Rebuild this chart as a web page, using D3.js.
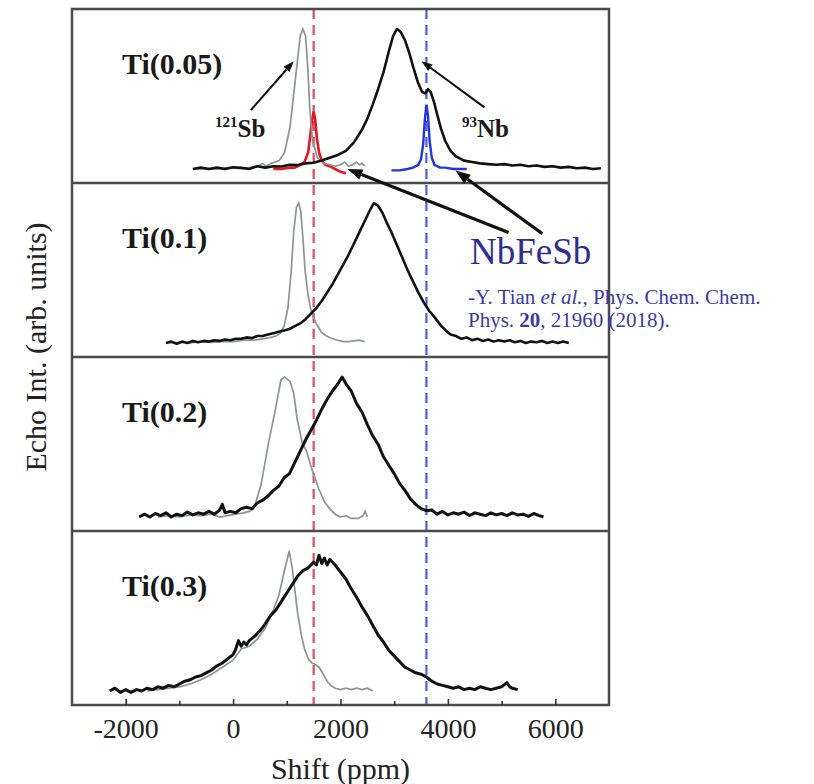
<!DOCTYPE html>
<html>
<head>
<meta charset="utf-8">
<script src="https://cdn.jsdelivr.net/npm/d3@7"></script>
<style>
  body { margin: 0; background: #fff; }
  svg { display: block; }
  text { font-family: "Liberation Serif", "Times New Roman", serif; }
</style>
</head>
<body>
<svg id="chart" width="814" height="784"></svg>
<script>
// panels, top to bottom
var panelNames = ["Ti(0.05)", "Ti(0.1)", "Ti(0.2)", "Ti(0.3)"];

// x axis
var xTicks = [-2000, 0, 2000, 4000, 6000];
var xMinorTicks = [-1000, 1000, 3000, 5000];
var refLines = [1500, 3600];   // NbFeSb 121Sb / 93Nb peak positions

// [shift ppm, normalised echo intensity]
// 93Nb spectra (black)
var nb005 = [[-750,0.0],[-600,0.01],[-450,0.0],[-300,0.01],[-150,0.0],[0,0.012],[150,0.008],[300,0.0],[450,0.02],[600,0.01],[750,0.02],[900,0.018],[1050,0.03],[1200,0.028],[1350,0.04],[1500,0.045],[1650,0.06],[1800,0.08],[1950,0.1],[2100,0.13],[2250,0.19],[2400,0.28],[2500,0.36],[2600,0.46],[2700,0.57],[2800,0.69],[2900,0.84],[2980,0.95],[3050,1.0],[3120,0.98],[3200,0.92],[3280,0.83],[3360,0.72],[3440,0.62],[3520,0.55],[3580,0.54],[3630,0.57],[3680,0.55],[3740,0.48],[3800,0.39],[3870,0.29],[3950,0.2],[4050,0.13],[4150,0.09],[4300,0.06],[4450,0.05],[4600,0.04],[4750,0.035],[4900,0.03],[5050,0.035],[5200,0.025],[5350,0.03],[5500,0.02],[5650,0.025],[5800,0.015],[5950,0.02],[6100,0.01],[6250,0.015],[6400,0.005],[6550,0.01],[6700,0.0],[6850,0.005]];
var nb01 = [[-1250,0.0],[-1150,0.01],[-1050,-0.005],[-950,0.01],[-850,0.0],[-750,0.015],[-650,0.005],[-550,0.015],[-450,0.01],[-350,0.02],[-250,0.015],[-150,0.025],[-50,0.02],[50,0.03],[150,0.03],[250,0.04],[350,0.035],[450,0.05],[550,0.05],[650,0.06],[750,0.07],[850,0.08],[950,0.09],[1050,0.1],[1150,0.12],[1250,0.14],[1350,0.17],[1450,0.21],[1550,0.25],[1650,0.3],[1750,0.36],[1850,0.42],[1950,0.49],[2050,0.56],[2150,0.63],[2250,0.71],[2350,0.79],[2450,0.87],[2550,0.95],[2620,1.0],[2700,0.98],[2780,0.93],[2860,0.86],[2950,0.79],[3050,0.7],[3150,0.61],[3250,0.52],[3350,0.44],[3450,0.36],[3550,0.29],[3650,0.23],[3720,0.2],[3800,0.16],[3880,0.12],[3960,0.09],[4050,0.06],[4150,0.05],[4250,0.03],[4350,0.04],[4450,0.02],[4550,0.03],[4650,0.015],[4750,0.025],[4850,0.01],[4950,0.02],[5050,0.01],[5150,0.02],[5250,0.005],[5350,0.015],[5450,0.0],[5550,0.01],[5650,0.005],[5750,0.015],[5850,0.0],[5950,0.01],[6050,0.0],[6150,0.01],[6250,0.0]];
var nb02 = [[-1750,0.0],[-1650,0.02],[-1550,0.0],[-1450,0.025],[-1350,0.01],[-1250,0.03],[-1150,0.0],[-1050,0.02],[-950,0.01],[-850,0.035],[-750,0.015],[-650,0.03],[-550,0.02],[-450,0.04],[-350,0.02],[-250,0.05],[-200,0.09],[-150,0.03],[-50,0.04],[50,0.03],[150,0.06],[250,0.07],[350,0.06],[450,0.1],[550,0.12],[650,0.15],[750,0.19],[850,0.22],[950,0.28],[1050,0.31],[1150,0.39],[1250,0.47],[1350,0.55],[1450,0.62],[1550,0.69],[1650,0.77],[1750,0.84],[1850,0.9],[1950,0.95],[2030,1.0],[2120,0.94],[2200,0.9],[2300,0.81],[2400,0.75],[2500,0.66],[2600,0.58],[2700,0.52],[2800,0.43],[2900,0.37],[3000,0.31],[3100,0.24],[3200,0.19],[3300,0.13],[3400,0.09],[3500,0.06],[3600,0.045],[3700,0.05],[3800,0.02],[3900,0.04],[4000,0.015],[4100,0.03],[4200,0.02],[4300,0.035],[4400,0.01],[4500,0.03],[4600,0.02],[4700,0.01],[4800,0.03],[4900,0.015],[5000,0.025],[5100,0.01],[5200,0.03],[5300,0.015],[5400,0.02],[5500,0.005],[5600,0.025],[5700,0.01],[5780,0.0]];
var nb03 = [[-2300,0.0],[-2200,0.02],[-2100,-0.01],[-2000,0.01],[-1900,-0.01],[-1800,0.01],[-1700,0.0],[-1600,0.02],[-1500,0.01],[-1400,0.03],[-1300,0.02],[-1200,0.04],[-1100,0.03],[-1000,0.05],[-900,0.07],[-800,0.08],[-700,0.1],[-600,0.11],[-500,0.13],[-400,0.15],[-300,0.18],[-200,0.2],[-100,0.23],[0,0.26],[50,0.3],[100,0.36],[150,0.32],[200,0.35],[250,0.33],[300,0.36],[400,0.39],[500,0.43],[600,0.48],[700,0.54],[800,0.58],[900,0.64],[1000,0.7],[1100,0.76],[1200,0.82],[1300,0.86],[1400,0.88],[1500,0.92],[1550,0.9],[1600,0.97],[1650,0.91],[1700,0.95],[1750,0.9],[1800,0.94],[1850,0.92],[1900,0.9],[2000,0.85],[2100,0.8],[2200,0.73],[2300,0.67],[2400,0.6],[2500,0.54],[2600,0.47],[2700,0.4],[2800,0.35],[2900,0.29],[3000,0.25],[3100,0.21],[3200,0.17],[3300,0.15],[3400,0.13],[3500,0.12],[3600,0.1],[3700,0.07],[3800,0.05],[3900,0.04],[4000,0.03],[4100,0.02],[4200,0.03],[4300,0.01],[4400,0.02],[4500,0.01],[4600,0.03],[4700,0.02],[4800,0.01],[4900,0.02],[5000,0.03],[5100,0.06],[5150,0.03],[5200,0.02],[5300,0.01]];

// 121Sb spectra (grey)
var sb005 = [[-700,0.0],[-500,0.005],[-300,0.0],[-100,0.01],[100,0.005],[300,0.01],[450,0.02],[550,0.04],[620,0.02],[700,0.04],[780,0.05],[860,0.06],[960,0.12],[1060,0.3],[1130,0.54],[1200,0.78],[1250,0.95],[1300,1.0],[1350,0.95],[1390,0.73],[1430,0.42],[1480,0.2],[1570,0.08],[1700,0.04],[1800,0.03],[1900,0.02],[2000,0.03],[2080,0.05],[2150,0.02],[2220,0.03],[2300,0.05],[2350,0.03],[2400,0.04],[2450,0.02]];
var sb01 = [[-1200,0.0],[-1000,0.005],[-800,0.0],[-600,0.01],[-400,0.005],[-200,0.01],[0,0.01],[200,0.02],[400,0.02],[550,0.03],[700,0.04],[800,0.05],[880,0.07],[950,0.12],[1020,0.25],[1080,0.5],[1130,0.8],[1180,0.97],[1220,1.0],[1260,0.94],[1300,0.75],[1340,0.52],[1390,0.36],[1440,0.25],[1500,0.18],[1560,0.13],[1640,0.08],[1740,0.05],[1850,0.03],[1950,0.02],[2050,0.01],[2150,0.01],[2250,0.015],[2350,0.02],[2450,0.01]];
var sb02 = [[-1400,0.0],[-1200,0.01],[-1000,0.0],[-800,0.015],[-600,0.01],[-400,0.02],[-250,0.0],[-100,0.01],[50,0.02],[200,0.03],[300,0.04],[387,0.06],[521,0.23],[655,0.52],[789,0.77],[891,0.98],[958,1.0],[1058,0.97],[1126,0.89],[1193,0.7],[1293,0.52],[1360,0.48],[1460,0.35],[1596,0.2],[1700,0.11],[1797,0.06],[1900,0.02],[1998,0.0],[2100,0.01],[2200,-0.01],[2335,-0.01],[2420,0.01],[2460,0.04],[2503,0.0]];
var sb03 = [[-1600,0.0],[-1400,0.01],[-1200,0.02],[-1000,0.03],[-800,0.05],[-600,0.08],[-400,0.12],[-200,0.17],[0,0.22],[150,0.3],[300,0.32],[450,0.37],[600,0.45],[750,0.58],[850,0.68],[950,0.85],[1045,1.0],[1100,0.88],[1150,0.72],[1200,0.56],[1270,0.4],[1330,0.3],[1400,0.23],[1470,0.2],[1530,0.19],[1600,0.17],[1680,0.12],[1750,0.07],[1820,0.04],[1900,0.02],[2000,0.01],[2100,0.02],[2200,0.01],[2300,0.02],[2400,0.01],[2500,0.02],[2600,0.0]];

// NbFeSb reference (Tian et al.), shown in the Ti(0.05) panel
var refSb = [[750,0.0],[900,0.0],[1050,0.01],[1150,0.01],[1250,0.03],[1330,0.05],[1400,0.12],[1440,0.25],[1470,0.35],[1500,0.41],[1530,0.35],[1560,0.22],[1600,0.12],[1650,0.06],[1720,0.03],[1800,0.02],[1900,0.0],[2000,-0.02],[2100,-0.03]];
var refNb = [[2950,-0.01],[3100,-0.01],[3250,0.0],[3350,0.01],[3450,0.03],[3500,0.07],[3540,0.18],[3570,0.35],[3600,0.46],[3630,0.38],[3660,0.2],[3700,0.08],[3750,0.03],[3850,0.01],[3950,0.01],[4100,0.0],[4250,0.0],[4350,0.0]];

var nbSeries = [nb005, nb01, nb02, nb03];
var sbSeries = [sb005, sb01, sb02, sb03];

var svg = d3.select("#chart");
var plotL = 72, plotR = 609, plotT = 9, plotB = 705;

var x = d3.scaleLinear().domain([-3000, 7000]).range([plotL, plotR]);
var band = d3.scaleBand().domain(panelNames).range([plotT, plotB]).padding(0);

function panelY(i) {
    var t = band(panelNames[i]);
    return d3.scaleLinear().domain([0, 1]).range([t + 160, t + 20]);
}

// dashed reference lines
var refColors = ["#e8475c", "#4d5fdc"];
svg.selectAll("line.ref").data(refLines).enter().append("line")
    .attr("class", "ref")
    .attr("x1", function (d) { return x(d); })
    .attr("x2", function (d) { return x(d); })
    .attr("y1", plotT).attr("y2", plotB)
    .attr("stroke", function (d, i) { return refColors[i]; })
    .attr("stroke-width", 2.2)
    .attr("stroke-dasharray", "10,6");

// spectra
panelNames.forEach(function (name, i) {
    var y = panelY(i);
    var line = d3.line().x(function (d) { return x(d[0]); }).y(function (d) { return y(d[1]); });
    var g = svg.append("g");

    if (i === 0) {
        g.append("path").datum(refSb).attr("d", line)
            .attr("fill", "none").attr("stroke", "#e8141e").attr("stroke-width", 2.6);
        g.append("path").datum(refNb).attr("d", line)
            .attr("fill", "none").attr("stroke", "#2233e0").attr("stroke-width", 2.4);
    }
    g.append("path").datum(sbSeries[i]).attr("d", line)
        .attr("fill", "none").attr("stroke", "#8a9692").attr("stroke-width", 1.7);
    g.append("path").datum(nbSeries[i]).attr("d", line)
        .attr("fill", "none").attr("stroke", "#111").attr("stroke-width", i < 2 ? 2.6 : 3)
        .attr("stroke-linejoin", "round");

    g.append("text")
        .attr("x", 122).attr("y", band(name) + 65)
        .attr("font-size", 30).attr("font-weight", "bold").attr("fill", "#1a1a1a")
        .text(name);
});

// frame and panel separators
svg.append("rect")
    .attr("x", plotL).attr("y", plotT).attr("width", plotR - plotL).attr("height", plotB - plotT)
    .attr("fill", "none").attr("stroke", "#4a4a4a").attr("stroke-width", 2.5);
svg.selectAll("line.sep").data(panelNames.slice(1)).enter().append("line")
    .attr("class", "sep")
    .attr("x1", plotL).attr("x2", plotR)
    .attr("y1", function (d) { return band(d); })
    .attr("y2", function (d) { return band(d); })
    .attr("stroke", "#4a4a4a").attr("stroke-width", 2.5);

// x axis, ticks pointing inward
var xAxis = svg.append("g").attr("transform", "translate(0," + plotB + ")")
    .call(d3.axisBottom(x).tickValues(xTicks).tickFormat(function (d) { return String(d); })
        .tickSizeInner(-6).tickSizeOuter(0).tickPadding(13));
xAxis.select(".domain").remove();
xAxis.selectAll("line").attr("stroke", "#333").attr("stroke-width", 1.6);
xAxis.selectAll("text").attr("font-size", 28).attr("fill", "#222")
    .attr("font-family", "Liberation Serif, serif");
var xMinor = svg.append("g").attr("transform", "translate(0," + plotB + ")")
    .call(d3.axisBottom(x).tickValues(xMinorTicks).tickSizeInner(-4).tickSizeOuter(0).tickFormat(""));
xMinor.select(".domain").remove();
xMinor.selectAll("line").attr("stroke", "#333").attr("stroke-width", 1.6);

svg.append("text")
    .attr("x", (plotL + plotR) / 2).attr("y", 779)
    .attr("text-anchor", "middle").attr("font-size", 30).attr("fill", "#222")
    .text("Shift (ppm)");
svg.append("text")
    .attr("transform", "translate(46,347) rotate(-90)")
    .attr("text-anchor", "middle").attr("font-size", 30).attr("fill", "#222")
    .text("Echo Int. (arb. units)");

// arrows
function arrow(x1, y1, x2, y2, w, len, hw) {
    var a = Math.atan2(y2 - y1, x2 - x1);
    var bx = x2 - len * Math.cos(a), by = y2 - len * Math.sin(a);
    svg.append("line").attr("x1", x1).attr("y1", y1).attr("x2", bx).attr("y2", by)
        .attr("stroke", "#111").attr("stroke-width", w);
    var px = -Math.sin(a) * hw / 2, py = Math.cos(a) * hw / 2;
    svg.append("path")
        .attr("d", "M" + x2 + "," + y2 + "L" + (bx + px) + "," + (by + py) + "L" + (bx - px) + "," + (by - py) + "Z")
        .attr("fill", "#111");
}
var y0 = panelY(0), y1 = panelY(1);
arrow(x(330), y0(0.42), x(1130), y0(0.77), 2, 11, 8);
arrow(x(4680), y0(0.44), x(3510), y0(0.77), 2, 11, 8);
arrow(x(5130), y1(0.79), x(2130), y0(0.0), 3.2, 15, 11);
arrow(x(5760), y1(0.78), x(4140), y0(-0.01), 3.2, 15, 11);

// isotope labels
var sbLabel = svg.append("text").attr("x", 215).attr("y", 137)
    .attr("font-weight", "bold").attr("fill", "#1a1a1a");
sbLabel.append("tspan").attr("font-size", 15).attr("dy", -10).text("121");
sbLabel.append("tspan").attr("font-size", 25).attr("dy", 10).text("Sb");
var nbLabel = svg.append("text").attr("x", 462).attr("y", 137)
    .attr("font-weight", "bold").attr("fill", "#1a1a1a");
nbLabel.append("tspan").attr("font-size", 15).attr("dy", -10).text("93");
nbLabel.append("tspan").attr("font-size", 25).attr("dy", 10).text("Nb");

// NbFeSb reference note
svg.append("text").attr("x", 470).attr("y", 264)
    .attr("font-size", 37).attr("fill", "#2e2e8e").text("NbFeSb");
var cite1 = svg.append("text").attr("x", 468).attr("y", 304)
    .attr("font-size", 21).attr("fill", "#3b3ba2");
cite1.append("tspan").text("-Y. Tian ");
cite1.append("tspan").attr("font-style", "italic").text("et al.");
cite1.append("tspan").text(", Phys. Chem. Chem.");
var cite2 = svg.append("text").attr("x", 468).attr("y", 327)
    .attr("font-size", 21).attr("fill", "#3b3ba2");
cite2.append("tspan").text("Phys. ");
cite2.append("tspan").attr("font-weight", "bold").text("20");
cite2.append("tspan").text(", 21960 (2018).");
</script>
</body>
</html>
